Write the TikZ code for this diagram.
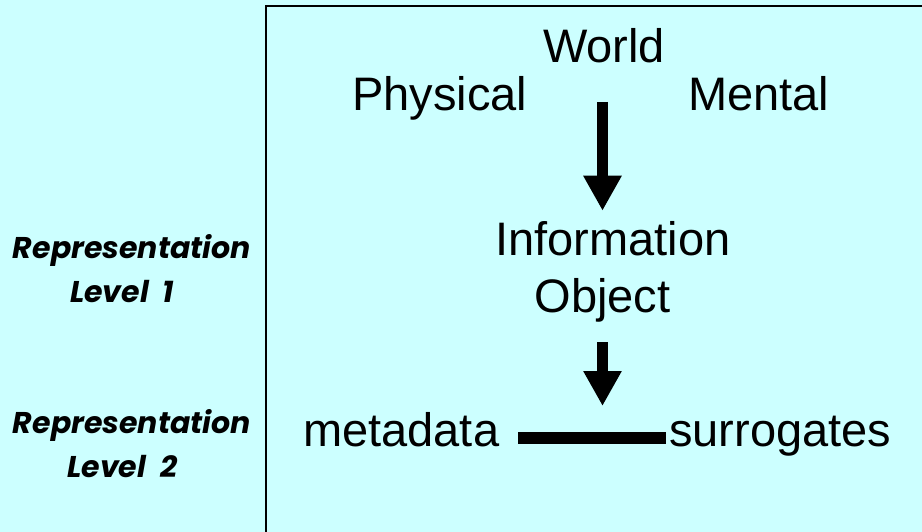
\documentclass[tikz,border=0pt]{standalone}
\usepackage{fontspec}
\setmainfont{Liberation Sans}
\newfontfamily\brushfont{Poppins}
\usetikzlibrary{arrows.meta}
\definecolor{paleaqua}{RGB}{204,255,255}
\tikzset{
  big/.style={inner sep=0pt, font=\fontsize{47}{57}\selectfont},
  replabel/.style={inner sep=0pt, align=center, font=\brushfont\bfseries\itshape\fontsize{30}{44}\selectfont},
  bigarrow/.style={line width=11.5pt, -{Triangle[width=36pt,length=35pt]}},
  frame/.style={line width=2.6pt, draw=black}
}

\begin{document}
\begin{tikzpicture}[x=1pt, y=-1pt]
		%%%%% BACKGROUND %%%%%
		\fill[paleaqua] (0, 0) rectangle (922, 532);
		\useasboundingbox (0, 0) rectangle (922, 532);
		\draw[frame] (266, 6) rectangle (940, 550);
		
		%%%%% WORLD %%%%%
		\node[big, anchor=base] (world) at (604, 63) {World};
		\node[big, anchor=base west] (physical) at (352, 111) {Physical};
		\node[big, anchor=base west] (mental) at (688, 111) {Mental};
		
		\node[big, anchor=base, align=center] (info) at (613, 312) {Information\\Object\hphantom{ii}};
		
		\node[big, anchor=base west] (meta) at (303, 446) {metadata};
		\node[big, anchor=base west] (surr) at (669, 446) {surrogates};
		
		%%%%% LEVELS %%%%%
		\node[replabel, anchor=base] (rep1) at (132, 302) {Representation\\Level~~1\hphantom{0}};
		\node[replabel, anchor=base] (rep2) at (132, 477) {Representation\\Level~~2\hphantom{0}};
		
		%%%%% ARROWS %%%%%
		\coordinate (down1) at (602.5, 102);
		\coordinate (down2) at (602.5, 342);
		\draw[bigarrow, shorten >=10pt] (down1) -- (down1 |- info.north);
		\draw[bigarrow] (down2) -- (602.5, 406);
		
		\draw[line width=12pt] ([shift={(19pt,8pt)}]meta.base east) -- ([shift={(-3pt,8pt)}]surr.base west);
		
\end{tikzpicture}
\end{document}
